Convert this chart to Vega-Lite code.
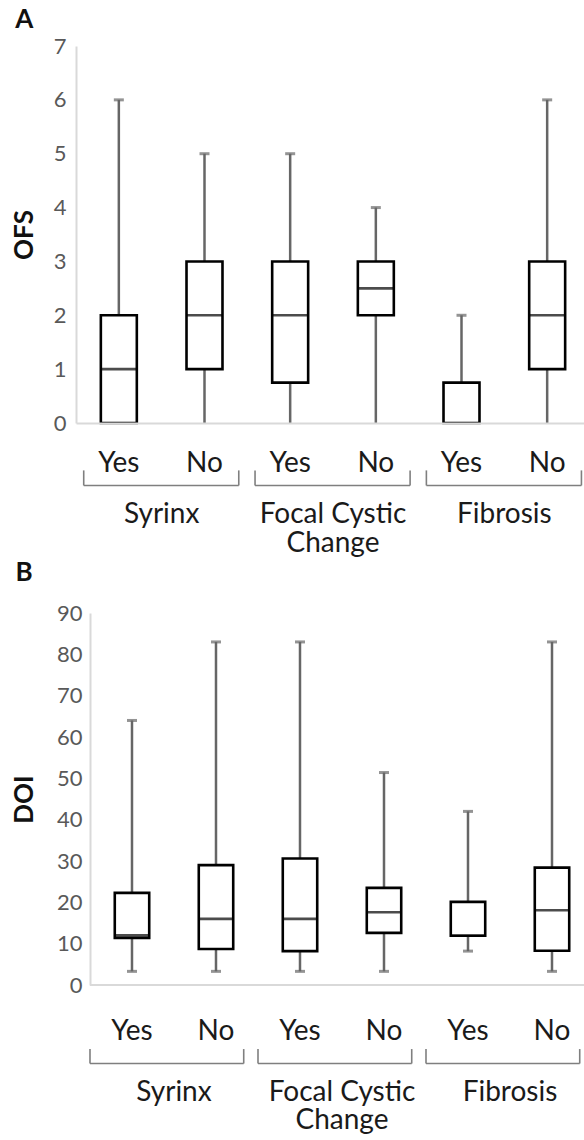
{
  "$schema": "https://vega.github.io/schema/vega-lite/v6.json",
  "padding": {"left": 11, "top": 7, "right": 0, "bottom": 0},
  "background": "white",
  "datasets": {
    "ofs": [
      {"key": "Syrinx|Yes", "min": 0, "q1": 0, "median": 1, "q3": 2, "max": 6},
      {"key": "Syrinx|No", "min": 0, "q1": 1, "median": 2, "q3": 3, "max": 5},
      {"key": "FCC|Yes", "min": 0, "q1": 0.75, "median": 2, "q3": 3, "max": 5},
      {"key": "FCC|No", "min": 0, "q1": 2, "median": 2.5, "q3": 3, "max": 4},
      {"key": "Fibrosis|Yes", "min": 0, "q1": 0, "median": null, "q3": 0.75, "max": 2},
      {"key": "Fibrosis|No", "min": 0, "q1": 1, "median": 2, "q3": 3, "max": 6}
    ],
    "doi": [
      {"key": "Syrinx|Yes", "min": 3.3, "q1": 11.4, "median": 12, "q3": 22.3, "max": 64},
      {"key": "Syrinx|No", "min": 3.3, "q1": 8.7, "median": 16, "q3": 29, "max": 83},
      {"key": "FCC|Yes", "min": 3.3, "q1": 8.2, "median": 16, "q3": 30.6, "max": 83},
      {"key": "FCC|No", "min": 3.3, "q1": 12.6, "median": 17.6, "q3": 23.5, "max": 51.4},
      {"key": "Fibrosis|Yes", "min": 8.2, "q1": 11.9, "median": 11.9, "q3": 20.1, "max": 42},
      {"key": "Fibrosis|No", "min": 3.3, "q1": 8.3, "median": 18.1, "q3": 28.4, "max": 83}
    ],
    "groups": [
      {"label": "Syrinx", "yesKey": "Syrinx|Yes", "noKey": "Syrinx|No"},
      {"label": "Focal Cystic\nChange", "yesKey": "FCC|Yes", "noKey": "FCC|No"},
      {"label": "Fibrosis", "yesKey": "Fibrosis|Yes", "noKey": "Fibrosis|No"}
    ],
    "baseline": [
      {"first": "Syrinx|Yes", "last": "Fibrosis|No", "zero": 0}
    ]
  },
  "spacing": 2,
  "vconcat": [
    {
      "width": 514,
      "height": 377,
      "title": {"text": "A", "anchor": "start", "frame": "bounds", "font": "Lato", "fontSize": 26, "fontWeight": "bold", "color": "#111111", "offset": 2, "dx": 4},
      "layer": [
        {
          "data": {"name": "ofs"},
          "mark": {"type": "rule", "color": "#666666", "strokeWidth": 2.5},
          "encoding": {
            "x": {"field": "key", "type": "nominal", "sort": null,
              "scale": {"domain": ["Syrinx|Yes", "Syrinx|No", "FCC|Yes", "FCC|No", "Fibrosis|Yes", "Fibrosis|No"], "paddingInner": 0, "paddingOuter": 0},
              "axis": {"title": null, "labelExpr": "split(datum.label, '|')[1]", "labelAngle": 0, "ticks": false, "domainColor": "#d9d9d9", "domainWidth": 2, "labelFont": "Lato", "labelFontSize": 28, "labelColor": "#1a1a1a", "labelBaseline": "alphabetic", "labelPadding": 48, "zindex": 1}},
            "y": {"field": "min", "type": "quantitative",
              "scale": {"domain": [0, 7], "nice": false, "zero": false},
              "axis": {"title": "OFS", "titleFont": "Lato", "titleFontSize": 26, "titleFontWeight": "bold", "titleColor": "#111111", "titlePadding": 16, "grid": false, "ticks": false, "domainColor": "#d9d9d9", "domainWidth": 2, "labelFont": "Lato", "labelFontSize": 22, "labelColor": "#595959", "labelPadding": 10, "format": "d", "values": [0, 1, 2, 3, 4, 5, 6, 7]}},
            "y2": {"field": "q1"}
          }
        },
        {
          "data": {"name": "ofs"},
          "mark": {"type": "rule", "color": "#666666", "strokeWidth": 2.5},
          "encoding": {
            "x": {"field": "key", "type": "nominal", "sort": null},
            "y": {"field": "q3", "type": "quantitative"},
            "y2": {"field": "max"}
          }
        },
        {
          "data": {"name": "ofs"},
          "mark": {"type": "bar", "fill": "white", "stroke": "black", "strokeWidth": 2.6, "width": {"band": 0.42}},
          "encoding": {
            "x": {"field": "key", "type": "nominal", "sort": null},
            "y": {"field": "q1", "type": "quantitative"},
            "y2": {"field": "q3"}
          }
        },
        {
          "data": {"name": "ofs"},
          "mark": {"type": "tick", "color": "black", "thickness": 2.6, "size": 35},
          "encoding": {
            "x": {"field": "key", "type": "nominal", "sort": null},
            "y": {"field": "median", "type": "quantitative"}
          }
        },
        {
          "data": {"name": "ofs"},
          "mark": {"type": "tick", "color": "#666666", "thickness": 3, "size": 10},
          "encoding": {
            "x": {"field": "key", "type": "nominal", "sort": null},
            "y": {"field": "max", "type": "quantitative"}
          }
        },
        {
          "data": {"name": "groups"},
          "mark": {"type": "rule", "color": "#7f7f7f", "strokeWidth": 1.6},
          "encoding": {
            "x": {"field": "yesKey", "type": "nominal", "sort": null, "bandPosition": 0.09},
            "x2": {"field": "noKey", "bandPosition": 0.9},
            "y": {"datum": -1.16, "type": "quantitative"}
          }
        },
        {
          "data": {"name": "groups"},
          "mark": {"type": "rule", "color": "#7f7f7f", "strokeWidth": 1.6},
          "encoding": {
            "x": {"field": "yesKey", "type": "nominal", "sort": null, "bandPosition": 0.09},
            "y": {"datum": -1.16, "type": "quantitative"},
            "y2": {"datum": -0.88}
          }
        },
        {
          "data": {"name": "groups"},
          "mark": {"type": "rule", "color": "#7f7f7f", "strokeWidth": 1.6},
          "encoding": {
            "x": {"field": "noKey", "type": "nominal", "sort": null, "bandPosition": 0.9},
            "y": {"datum": -1.16, "type": "quantitative"},
            "y2": {"datum": -0.88}
          }
        },
        {
          "data": {"name": "groups"},
          "mark": {"type": "text", "font": "Lato", "fontSize": 28, "color": "#1a1a1a", "align": "center", "baseline": "alphabetic", "lineBreak": "\n", "lineHeight": 29},
          "encoding": {
            "x": {"field": "noKey", "type": "nominal", "sort": null, "bandPosition": 0},
            "y": {"datum": -1.85, "type": "quantitative"},
            "text": {"field": "label", "type": "nominal"}
          }
        }
      ]
    },
    {
      "width": 518,
      "height": 372,
      "title": {"text": "B", "anchor": "start", "frame": "bounds", "font": "Lato", "fontSize": 26, "fontWeight": "bold", "color": "#111111", "offset": 16, "dx": 4},
      "layer": [
        {
          "data": {"name": "doi"},
          "mark": {"type": "rule", "color": "#666666", "strokeWidth": 2.5},
          "encoding": {
            "x": {"field": "key", "type": "nominal", "sort": null,
              "scale": {"domain": ["Syrinx|Yes", "Syrinx|No", "FCC|Yes", "FCC|No", "Fibrosis|Yes", "Fibrosis|No"], "paddingInner": 0, "paddingOuter": 0.0833, "align": 1},
              "axis": {"title": null, "labelExpr": "split(datum.label, '|')[1]", "labelAngle": 0, "ticks": false, "domain": false, "labelFont": "Lato", "labelFontSize": 28, "labelColor": "#1a1a1a", "labelBaseline": "alphabetic", "labelPadding": 54}},
            "y": {"field": "min", "type": "quantitative",
              "scale": {"domain": [0, 90], "nice": false, "zero": false},
              "axis": {"title": "DOI", "offset": -14, "titleFont": "Lato", "titleFontSize": 26, "titleFontWeight": "bold", "titleColor": "#111111", "titlePadding": 19, "grid": false, "ticks": false, "domainColor": "#d9d9d9", "domainWidth": 2, "labelFont": "Lato", "labelFontSize": 22, "labelColor": "#595959", "labelPadding": 8, "format": "d", "values": [0, 10, 20, 30, 40, 50, 60, 70, 80, 90]}},
            "y2": {"field": "q1"}
          }
        },
        {
          "data": {"name": "doi"},
          "mark": {"type": "rule", "color": "#666666", "strokeWidth": 2.5},
          "encoding": {
            "x": {"field": "key", "type": "nominal", "sort": null},
            "y": {"field": "q3", "type": "quantitative"},
            "y2": {"field": "max"}
          }
        },
        {
          "data": {"name": "doi"},
          "mark": {"type": "bar", "fill": "white", "stroke": "black", "strokeWidth": 2.6, "width": {"band": 0.41}},
          "encoding": {
            "x": {"field": "key", "type": "nominal", "sort": null},
            "y": {"field": "q1", "type": "quantitative"},
            "y2": {"field": "q3"}
          }
        },
        {
          "data": {"name": "doi"},
          "mark": {"type": "tick", "color": "black", "thickness": 2.6, "size": 33},
          "encoding": {
            "x": {"field": "key", "type": "nominal", "sort": null},
            "y": {"field": "median", "type": "quantitative"}
          }
        },
        {
          "data": {"name": "doi"},
          "mark": {"type": "tick", "color": "#666666", "thickness": 3, "size": 10},
          "encoding": {
            "x": {"field": "key", "type": "nominal", "sort": null},
            "y": {"field": "max", "type": "quantitative"}
          }
        },
        {
          "data": {"name": "doi"},
          "mark": {"type": "tick", "color": "#666666", "thickness": 3, "size": 10},
          "encoding": {
            "x": {"field": "key", "type": "nominal", "sort": null},
            "y": {"field": "min", "type": "quantitative"}
          }
        },
        {
          "data": {"name": "baseline"},
          "mark": {"type": "rule", "color": "#d9d9d9", "strokeWidth": 2},
          "encoding": {
            "x": {"field": "first", "type": "nominal", "sort": null, "bandPosition": 0},
            "x2": {"field": "last", "bandPosition": 1},
            "y": {"field": "zero", "type": "quantitative"}
          }
        },
        {
          "data": {"name": "groups"},
          "mark": {"type": "rule", "color": "#7f7f7f", "strokeWidth": 1.6},
          "encoding": {
            "x": {"field": "yesKey", "type": "nominal", "sort": null, "bandPosition": 0.0},
            "x2": {"field": "noKey", "bandPosition": 0.83},
            "y": {"datum": -19, "type": "quantitative"}
          }
        },
        {
          "data": {"name": "groups"},
          "mark": {"type": "rule", "color": "#7f7f7f", "strokeWidth": 1.6},
          "encoding": {
            "x": {"field": "yesKey", "type": "nominal", "sort": null, "bandPosition": 0.0},
            "y": {"datum": -19, "type": "quantitative"},
            "y2": {"datum": -15.5}
          }
        },
        {
          "data": {"name": "groups"},
          "mark": {"type": "rule", "color": "#7f7f7f", "strokeWidth": 1.6},
          "encoding": {
            "x": {"field": "noKey", "type": "nominal", "sort": null, "bandPosition": 0.83},
            "y": {"datum": -19, "type": "quantitative"},
            "y2": {"datum": -15.5}
          }
        },
        {
          "data": {"name": "groups"},
          "mark": {"type": "text", "font": "Lato", "fontSize": 28, "color": "#1a1a1a", "align": "center", "baseline": "alphabetic", "lineBreak": "\n", "lineHeight": 28},
          "encoding": {
            "x": {"field": "noKey", "type": "nominal", "sort": null, "bandPosition": 0},
            "y": {"datum": -28.1, "type": "quantitative"},
            "text": {"field": "label", "type": "nominal"}
          }
        }
      ]
    }
  ],
  "config": {"view": {"stroke": null}}
}
